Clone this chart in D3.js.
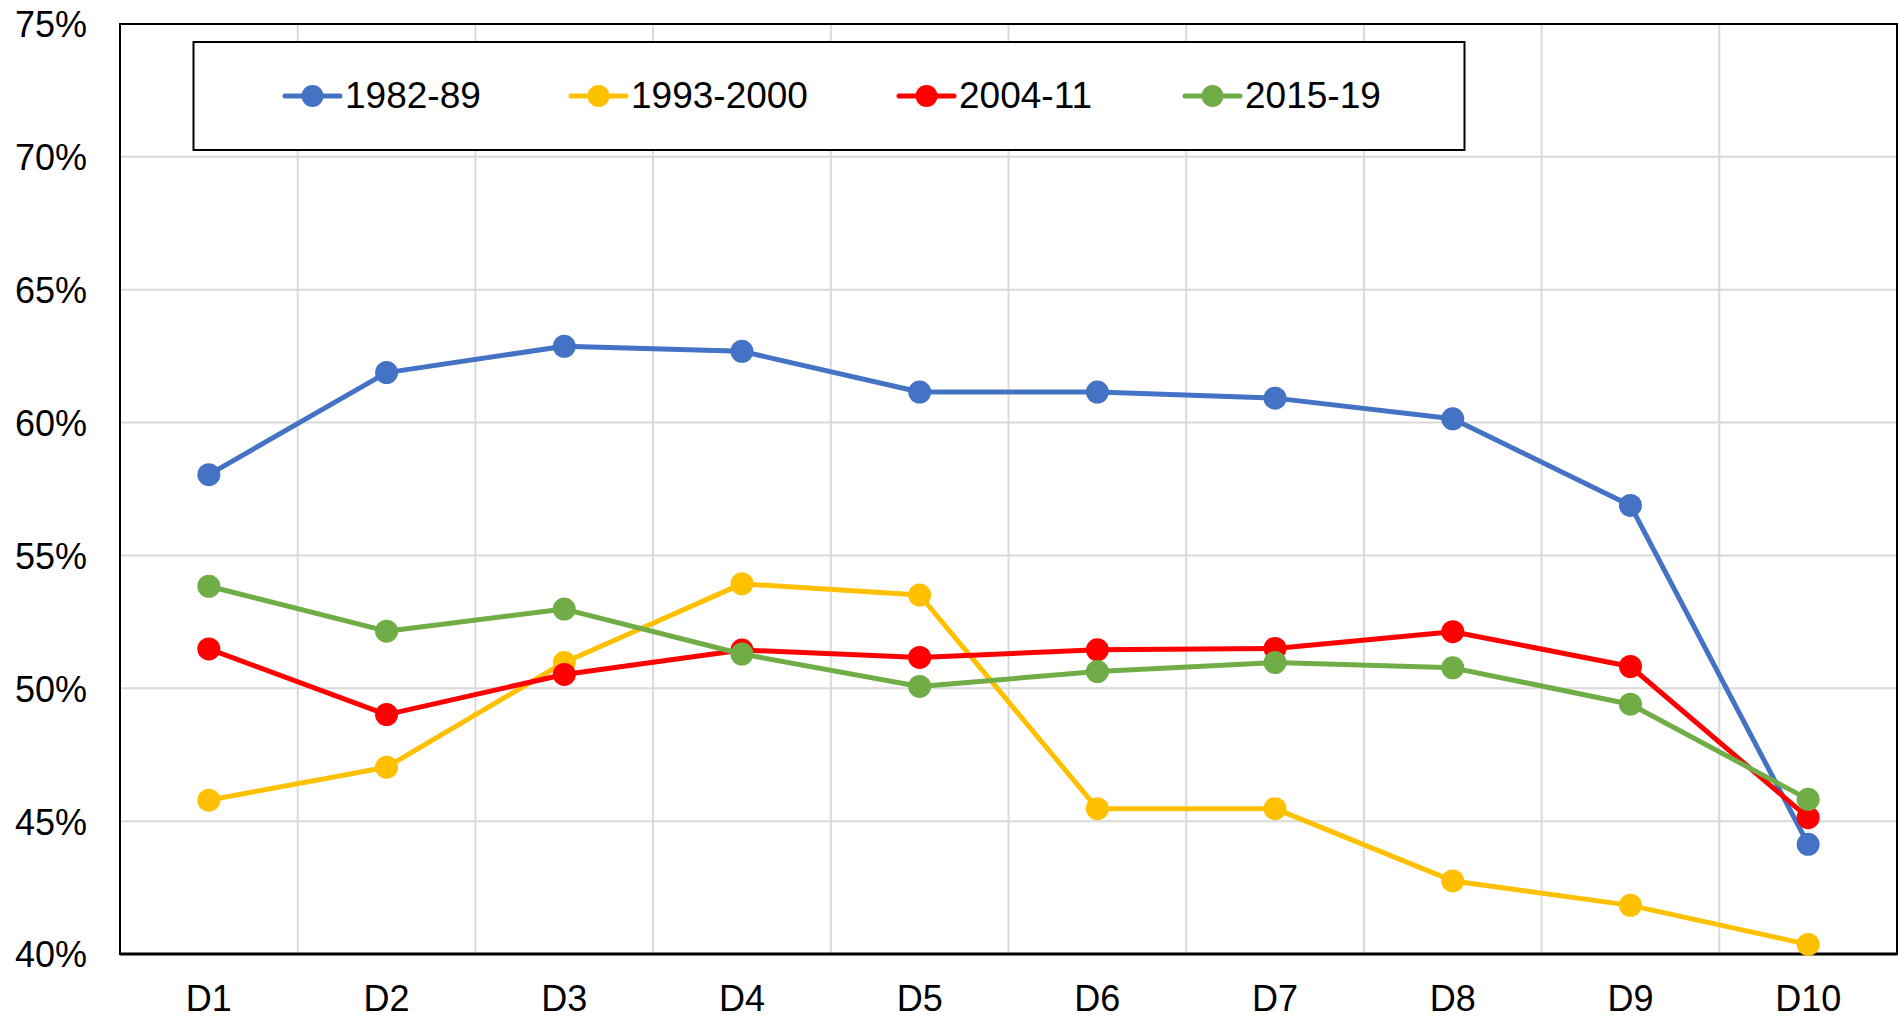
<!DOCTYPE html>
<html>
<head>
<meta charset="utf-8">
<script src="https://cdn.jsdelivr.net/npm/d3@7"></script>
<style>
  html, body { margin: 0; padding: 0; background: #fff; }
  svg { display: block; }
  text { font-family: "Liberation Sans", Arial, sans-serif; fill: #000; }
</style>
</head>
<body>
<svg id="chart" width="1898" height="1018"></svg>
<script>
const categories = ["D1","D2","D3","D4","D5","D6","D7","D8","D9","D10"];
const seriesNames = ["1982-89","1993-2000","2004-11","2015-19"];
const seriesColors = ["#4472C4","#FFC000","#FF0000","#70AD47"];
const values1982 = [58.04, 61.88, 62.87, 62.68, 61.15, 61.15, 60.92, 60.14, 56.88, 44.13];
const values1993 = [45.79, 47.03, 50.97, 53.93, 53.51, 45.47, 45.47, 42.75, 41.83, 40.36];
const values2004 = [51.48, 49.01, 50.52, 51.44, 51.16, 51.45, 51.50, 52.13, 50.82, 45.13];
const values2015 = [53.84, 52.15, 52.98, 51.29, 50.07, 50.63, 50.97, 50.77, 49.40, 45.82];
const yTicks = [40, 45, 50, 55, 60, 65, 70, 75];

const seriesValues = [values1982, values1993, values2004, values2015];

const svg = d3.select("#chart");
const pLeft = 120, pRight = 1897, pTop = 24, pBottom = 954;

const x = d3.scaleBand().domain(categories).range([pLeft, pRight]).padding(0);
const y = d3.scaleLinear().domain([40, 75]).range([pBottom, pTop]);
const cx = d => x(d) + x.bandwidth() / 2;

// gridlines
const grid = svg.append("g");
grid.selectAll("line.h").data(yTicks.slice(1, -1)).enter().append("line")
  .attr("class", "h")
  .attr("x1", pLeft).attr("x2", pRight)
  .attr("y1", d => y(d)).attr("y2", d => y(d))
  .attr("stroke", "#d9d9d9").attr("stroke-width", 2);
grid.selectAll("line.v").data(categories.slice(1)).enter().append("line")
  .attr("class", "v")
  .attr("x1", d => x(d)).attr("x2", d => x(d))
  .attr("y1", pTop).attr("y2", pBottom)
  .attr("stroke", "#d9d9d9").attr("stroke-width", 2);

// plot border
svg.append("rect").attr("x", pLeft).attr("y", pTop)
  .attr("width", pRight - pLeft).attr("height", pBottom - pTop)
  .attr("fill", "none").attr("stroke", "#000").attr("stroke-width", 2);
svg.append("line").attr("x1", pLeft).attr("x2", pRight)
  .attr("y1", pBottom).attr("y2", pBottom)
  .attr("stroke", "#000").attr("stroke-width", 3);

// y axis labels
const yAxis = d3.axisLeft(y).tickValues(yTicks).tickSize(0).tickPadding(0)
  .tickFormat(d => d + "%");
const yg = svg.append("g").attr("transform", `translate(87,0)`).call(yAxis);
yg.select(".domain").remove();
yg.selectAll("text").attr("font-size", 36).attr("fill", "#000")
  .attr("font-family", "Liberation Sans, Arial, sans-serif").attr("dy", "0.36em");

// x axis labels
const xAxis = d3.axisBottom(x).tickSize(0).tickPadding(0);
const xg = svg.append("g").attr("transform", `translate(0,${pBottom})`).call(xAxis);
xg.select(".domain").remove();
xg.selectAll("text").attr("font-size", 36).attr("fill", "#000")
  .attr("font-family", "Liberation Sans, Arial, sans-serif")
  .attr("y", 57).attr("dy", 0);

// series
const line = d3.line().x((d, i) => cx(categories[i])).y(d => y(d));
seriesValues.forEach((vals, si) => {
  const g = svg.append("g");
  g.append("path").datum(vals).attr("d", line)
    .attr("fill", "none").attr("stroke", seriesColors[si])
    .attr("stroke-width", 5).attr("stroke-linejoin", "round");
  g.selectAll("circle").data(vals).enter().append("circle")
    .attr("cx", (d, i) => cx(categories[i])).attr("cy", d => y(d))
    .attr("r", 11.5).attr("fill", seriesColors[si]);
});

// legend
const lg = svg.append("g");
lg.append("rect").attr("x", 193.5).attr("y", 42).attr("width", 1271).attr("height", 108)
  .attr("fill", "#fff").attr("stroke", "#000").attr("stroke-width", 2);
const legendX = [285, 571, 899, 1185];
const ly = 96;
seriesNames.forEach((name, i) => {
  const lx = legendX[i];
  lg.append("line").attr("x1", lx).attr("x2", lx + 55).attr("y1", ly).attr("y2", ly)
    .attr("stroke", seriesColors[i]).attr("stroke-width", 5).attr("stroke-linecap", "round");
  lg.append("circle").attr("cx", lx + 27.5).attr("cy", ly).attr("r", 11)
    .attr("fill", seriesColors[i]);
  lg.append("text").attr("x", lx + 60).attr("y", 108)
    .attr("font-size", 37).text(name);
});
</script>
</body>
</html>
